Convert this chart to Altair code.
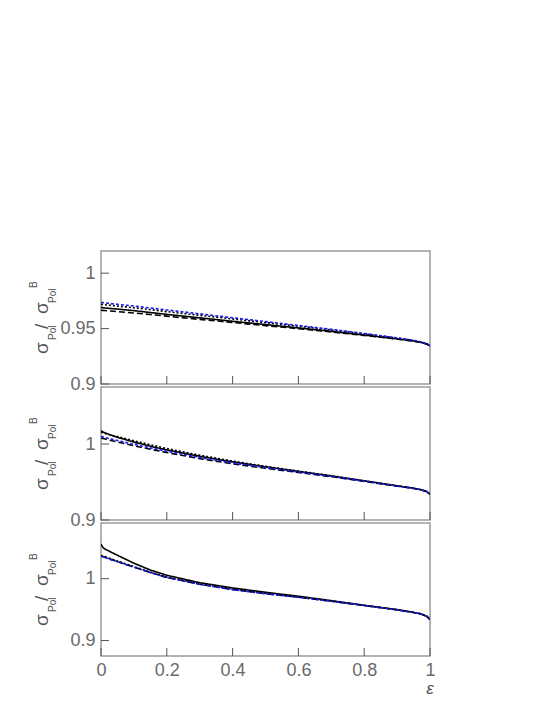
import altair as alt
import pandas as pd

eps = [0, 0.005, 0.01, 0.03, 0.05, 0.1, 0.15, 0.2, 0.3, 0.4, 0.5, 0.6, 0.7, 0.8, 0.9, 0.95, 0.97, 0.99, 1.0]

series_names = ["solid", "dashed", "dotted", "blue"]

# Panel 1
p1_solid = [0.9690, 0.9689, 0.9687, 0.9681, 0.9676, 0.9662, 0.9645, 0.9628, 0.9597, 0.9566, 0.9536, 0.9506, 0.9475, 0.9442, 0.9407, 0.9388, 0.9378, 0.9362, 0.9345]
p1_dashed = [0.9665, 0.9664, 0.9663, 0.9658, 0.9653, 0.9641, 0.9627, 0.9612, 0.9583, 0.9555, 0.9527, 0.9499, 0.9470, 0.9438, 0.9405, 0.9386, 0.9376, 0.9360, 0.9345]
p1_dotted = [0.9718, 0.9717, 0.9715, 0.9709, 0.9703, 0.9688, 0.9671, 0.9653, 0.9620, 0.9587, 0.9554, 0.9521, 0.9488, 0.9453, 0.9414, 0.9392, 0.9381, 0.9364, 0.9345]
p1_blue = [0.9735, 0.9734, 0.9732, 0.9725, 0.9719, 0.9703, 0.9686, 0.9668, 0.9633, 0.9598, 0.9563, 0.9528, 0.9493, 0.9456, 0.9416, 0.9394, 0.9382, 0.9364, 0.9345]

# Panel 2
p2_solid = [1.0175, 1.0160, 1.0150, 1.0118, 1.0088, 1.0025, 0.9970, 0.9922, 0.9838, 0.9765, 0.9700, 0.9640, 0.9580, 0.9515, 0.9450, 0.9418, 0.9402, 0.9375, 0.9340]
p2_dashed = [1.0080, 1.0074, 1.0068, 1.0046, 1.0026, 0.9977, 0.9931, 0.9888, 0.9808, 0.9740, 0.9680, 0.9625, 0.9570, 0.9508, 0.9445, 0.9415, 0.9399, 0.9373, 0.9340]
p2_dotted = [1.0155, 1.0148, 1.0140, 1.0118, 1.0097, 1.0043, 0.9990, 0.9940, 0.9853, 0.9775, 0.9706, 0.9643, 0.9582, 0.9516, 0.9450, 0.9418, 0.9402, 0.9375, 0.9340]
p2_blue = [1.0100, 1.0094, 1.0088, 1.0066, 1.0046, 0.9995, 0.9948, 0.9905, 0.9822, 0.9752, 0.9690, 0.9632, 0.9574, 0.9511, 0.9447, 0.9416, 0.9400, 0.9374, 0.9340]

# Panel 3
p3_solid = [1.0560, 1.0510, 1.0485, 1.0430, 1.0378, 1.0250, 1.0140, 1.0055, 0.9935, 0.9850, 0.9780, 0.9716, 0.9645, 0.9570, 0.9500, 0.9455, 0.9435, 0.9390, 0.9340]
p3_dashed = [1.0365, 1.0358, 1.0350, 1.0312, 1.0276, 1.0188, 1.0100, 1.0020, 0.9910, 0.9825, 0.9758, 0.9700, 0.9636, 0.9566, 0.9496, 0.9452, 0.9433, 0.9395, 0.9340]
p3_dotted = [1.0375, 1.0368, 1.0360, 1.0322, 1.0285, 1.0196, 1.0107, 1.0027, 0.9916, 0.9830, 0.9762, 0.9703, 0.9638, 0.9567, 0.9497, 0.9453, 0.9434, 0.9396, 0.9340]
p3_blue = [1.0360, 1.0353, 1.0345, 1.0308, 1.0272, 1.0185, 1.0098, 1.0018, 0.9908, 0.9823, 0.9756, 0.9699, 0.9635, 0.9566, 0.9496, 0.9452, 0.9433, 0.9395, 0.9340]

p1_domain = [0.9, 1.02]
p2_domain = [0.9, 1.075]
p3_domain = [0.875, 1.09]

p1_yticks = [0.9, 0.95, 1.0]
p2_yticks = [0.9, 1.0]
p3_yticks = [0.9, 1.0]

x_ticks = [0, 0.2, 0.4, 0.6, 0.8, 1.0]

W = 329
H = 133
FONT = "Liberation Sans"
LABEL_COLOR = "#6a6a6a"


def title_layers():
    parts = []
    # (text, x baseline, y start, size)
    specs = [
        ("σ", -53, 103, 19),
        ("Pol", -45, 89, 10),
        ("/", -53, 78, 19),
        ("σ", -53, 63, 19),
        ("Pol", -45, 52, 10),
        ("B", -64, 37, 10),
    ]
    for txt, xx, yy, sz in specs:
        parts.append(
            alt.Chart(pd.DataFrame({"t": [txt]})).mark_text(
                angle=270, align="left", baseline="alphabetic",
                fontSize=sz, font=FONT, color="#555555",
            ).encode(text="t:N", x=alt.value(xx), y=alt.value(yy))
        )
    return parts


def panel(vals, domain, yticks, bottom):
    rows = []
    for name, v in zip(series_names, vals):
        for e, y in zip(eps, v):
            rows.append({"eps": e, "val": y, "series": name})
    df = pd.DataFrame(rows)

    if bottom:
        xaxis = alt.Axis(values=x_ticks, ticks=False, domain=False, grid=False,
                         title=None, labelFontSize=18, labelColor=LABEL_COLOR, labelFont=FONT,
                         labelPadding=5, format="~g", labelFlush=False)
    else:
        xaxis = None
    yaxis = alt.Axis(values=yticks, ticks=False, domain=False, grid=False, title=None,
                     labelFontSize=18, labelColor=LABEL_COLOR, labelFont=FONT,
                     labelPadding=6, format="~g", labelFlush=False, labelOverlap=False)
    X = alt.X("eps:Q", scale=alt.Scale(domain=[0, 1], nice=False), axis=xaxis)
    Y = alt.Y("val:Q", scale=alt.Scale(domain=domain, nice=False, zero=False), axis=yaxis)

    lines = alt.Chart(df).mark_line(strokeWidth=1.6, clip=True).encode(
        x=X, y=Y,
        color=alt.Color("series:N", scale=alt.Scale(domain=series_names,
                        range=["black", "black", "black", "#1a1aee"]), legend=None),
        strokeDash=alt.StrokeDash("series:N", scale=alt.Scale(domain=series_names,
                        range=[[1, 0], [6, 3], [2, 2], [3, 2]]), legend=None),
    )
    ytick_rules = alt.Chart(pd.DataFrame({"val": yticks})).mark_rule(
        color="#555555", strokeWidth=1).encode(y=Y, x=alt.value(0), x2=alt.value(8))
    xtick_rules = alt.Chart(pd.DataFrame({"eps": x_ticks})).mark_rule(
        color="#555555", strokeWidth=1).encode(x=X, y=alt.value(H), y2=alt.value(H - 8))
    layers = [lines, ytick_rules, xtick_rules] + title_layers()
    if bottom:
        layers.append(
            alt.Chart(pd.DataFrame({"t": ["ε"]})).mark_text(
                align="center", baseline="alphabetic", fontSize=17, font=FONT,
                fontStyle="italic", color="#555555",
            ).encode(text="t:N", x=alt.value(W), y=alt.value(H + 38))
        )
    return alt.layer(*layers).properties(width=W, height=H)


top = panel([p1_solid, p1_dashed, p1_dotted, p1_blue], p1_domain, p1_yticks, False)
mid = panel([p2_solid, p2_dashed, p2_dotted, p2_blue], p2_domain, p2_yticks, False)
bot = panel([p3_solid, p3_dashed, p3_dotted, p3_blue], p3_domain, p3_yticks, True)

chart = alt.vconcat(top, mid, bot, spacing=3, bounds="flush").properties(
    padding={"left": 20, "top": 242, "right": 10, "bottom": 10},
    background="white",
).configure_view(stroke="#9a9a9a", strokeWidth=1.5)

chart.save("out.html", embed_options={"renderer": "svg", "actions": False})
